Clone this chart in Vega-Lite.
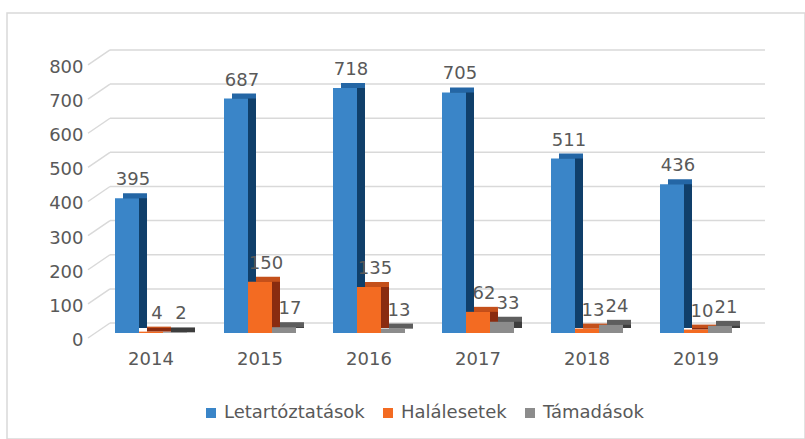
{
  "$schema": "https://vega.github.io/schema/vega-lite/v6.json",
  "width": 798,
  "height": 426,
  "padding": {"left": 7, "top": 13, "right": 0, "bottom": 0},
  "autosize": {"type": "pad"},
  "background": "white",
  "config": {
    "view": {"stroke": "#d9d9d9", "strokeWidth": 1.5},
    "font": "DejaVu Sans",
    "axis": {"labelFont": "DejaVu Sans", "labelFontSize": 18, "labelColor": "#595959"}
  },
  "data": {"values": [
    {"year": "2014", "s": "Letartóztatások", "v": 395},
    {"year": "2014", "s": "Halálesetek", "v": 4},
    {"year": "2014", "s": "Támadások", "v": 2},
    {"year": "2015", "s": "Letartóztatások", "v": 687},
    {"year": "2015", "s": "Halálesetek", "v": 150},
    {"year": "2015", "s": "Támadások", "v": 17},
    {"year": "2016", "s": "Letartóztatások", "v": 718},
    {"year": "2016", "s": "Halálesetek", "v": 135},
    {"year": "2016", "s": "Támadások", "v": 13},
    {"year": "2017", "s": "Letartóztatások", "v": 705},
    {"year": "2017", "s": "Halálesetek", "v": 62},
    {"year": "2017", "s": "Támadások", "v": 33},
    {"year": "2018", "s": "Letartóztatások", "v": 511},
    {"year": "2018", "s": "Halálesetek", "v": 13},
    {"year": "2018", "s": "Támadások", "v": 24},
    {"year": "2019", "s": "Letartóztatások", "v": 436},
    {"year": "2019", "s": "Halálesetek", "v": 10},
    {"year": "2019", "s": "Támadások", "v": 21}
  ]},
  "resolve": {"scale": {"color": "independent", "xOffset": "independent"}},
  "layer": [
    {
      "data": {"values": [{"g": 0}, {"g": 100}, {"g": 200}, {"g": 300}, {"g": 400}, {"g": 500}, {"g": 600}, {"g": 700}, {"g": 800}]},
      "mark": {"type": "rule", "color": "#d9d9d9", "strokeWidth": 1.5, "xOffset": -5, "x2Offset": 105, "yOffset": -10},
      "encoding": {
        "x": {"datum": "2014", "type": "nominal", "bandPosition": 0,
          "scale": {"paddingInner": 0.3394, "paddingOuter": 0.8303, "align": 0.5967},
          "axis": {"title": null, "orient": "bottom", "offset": -89, "domain": false, "ticks": false, "labelPadding": 0, "labelAngle": 0}},
        "x2": {"datum": "2019", "bandPosition": 0},
        "y": {"field": "g", "type": "quantitative",
          "scale": {"domain": [-310.6, 937.7], "nice": false, "zero": false},
          "axis": {"title": null, "values": [0, 100, 200, 300, 400, 500, 600, 700, 800], "offset": -78, "grid": false, "domain": false, "ticks": false, "labelPadding": 2, "labelOffset": 7.5}}
      }
    },
    {
      "data": {"values": [{"g": 0}, {"g": 100}, {"g": 200}, {"g": 300}, {"g": 400}, {"g": 500}, {"g": 600}, {"g": 700}, {"g": 800}]},
      "mark": {"type": "rule", "color": "#d9d9d9", "strokeWidth": 1.5, "xOffset": -27, "x2Offset": -5, "yOffset": 5, "y2Offset": -10},
      "encoding": {
        "x": {"datum": "2014", "type": "nominal", "bandPosition": 0},
        "x2": {"datum": "2014", "bandPosition": 0},
        "y": {"field": "g", "type": "quantitative"},
        "y2": {"field": "g"}
      }
    },
    {
      "mark": {"type": "bar", "yOffset": -5, "y2Offset": -5},
      "encoding": {
        "x": {"field": "year", "type": "nominal"},
        "xOffset": {"field": "s", "type": "nominal", "sort": ["Letartóztatások", "Halálesetek", "Támadások"], "scale": {"paddingInner": 0, "paddingOuter": 0, "range": [8, 80]}},
        "y": {"field": "v", "type": "quantitative"},
        "y2": {"datum": 0},
        "color": {"field": "s", "type": "nominal", "legend": null, "scale": {"domain": ["Letartóztatások", "Halálesetek", "Támadások"], "range": ["#2466a5", "#c4501b", "#5e5e5e"]}}
      }
    },
    {
      "mark": {"type": "bar", "yOffset": 0, "y2Offset": -5},
      "encoding": {
        "x": {"field": "year", "type": "nominal"},
        "xOffset": {"field": "s", "type": "nominal", "sort": ["Letartóztatások", "Halálesetek", "Támadások"], "scale": {"paddingInner": 0, "paddingOuter": 0, "range": [8, 80]}},
        "y": {"field": "v", "type": "quantitative"},
        "y2": {"datum": 0},
        "color": {"field": "s", "type": "nominal", "legend": null, "scale": {"domain": ["Letartóztatások", "Halálesetek", "Támadások"], "range": ["#103f6a", "#8a2c10", "#3d3d3d"]}}
      }
    },
    {
      "mark": {"type": "bar"},
      "encoding": {
        "x": {"field": "year", "type": "nominal"},
        "xOffset": {"field": "s", "type": "nominal", "sort": ["Letartóztatások", "Halálesetek", "Támadások"], "scale": {"paddingInner": 0, "paddingOuter": 0}},
        "y": {"field": "v", "type": "quantitative"},
        "y2": {"datum": 0},
        "color": {"field": "s", "type": "nominal",
          "scale": {"domain": ["Letartóztatások", "Halálesetek", "Támadások"], "range": ["#3a85c8", "#f36b22", "#8c8c8c"]},
          "legend": {"orient": "none", "legendX": 195, "legendY": 391, "direction": "horizontal", "title": null, "symbolType": "square", "symbolSize": 100, "symbolStrokeWidth": 0, "labelFont": "DejaVu Sans", "labelFontSize": 18, "labelColor": "#595959", "labelOffset": 4, "columnPadding": 14, "padding": 0}}
      }
    },
    {
      "mark": {"type": "text", "baseline": "middle", "align": "center", "dx": 6, "dy": -18, "fontSize": 18, "font": "DejaVu Sans", "fill": "#595959"},
      "encoding": {
        "x": {"field": "year", "type": "nominal"},
        "xOffset": {"field": "s", "type": "nominal", "sort": ["Letartóztatások", "Halálesetek", "Támadások"], "scale": {"type": "point", "padding": 0, "range": [12, 60]}},
        "y": {"field": "v", "type": "quantitative"},
        "text": {"field": "v", "type": "quantitative"}
      }
    }
  ]
}
